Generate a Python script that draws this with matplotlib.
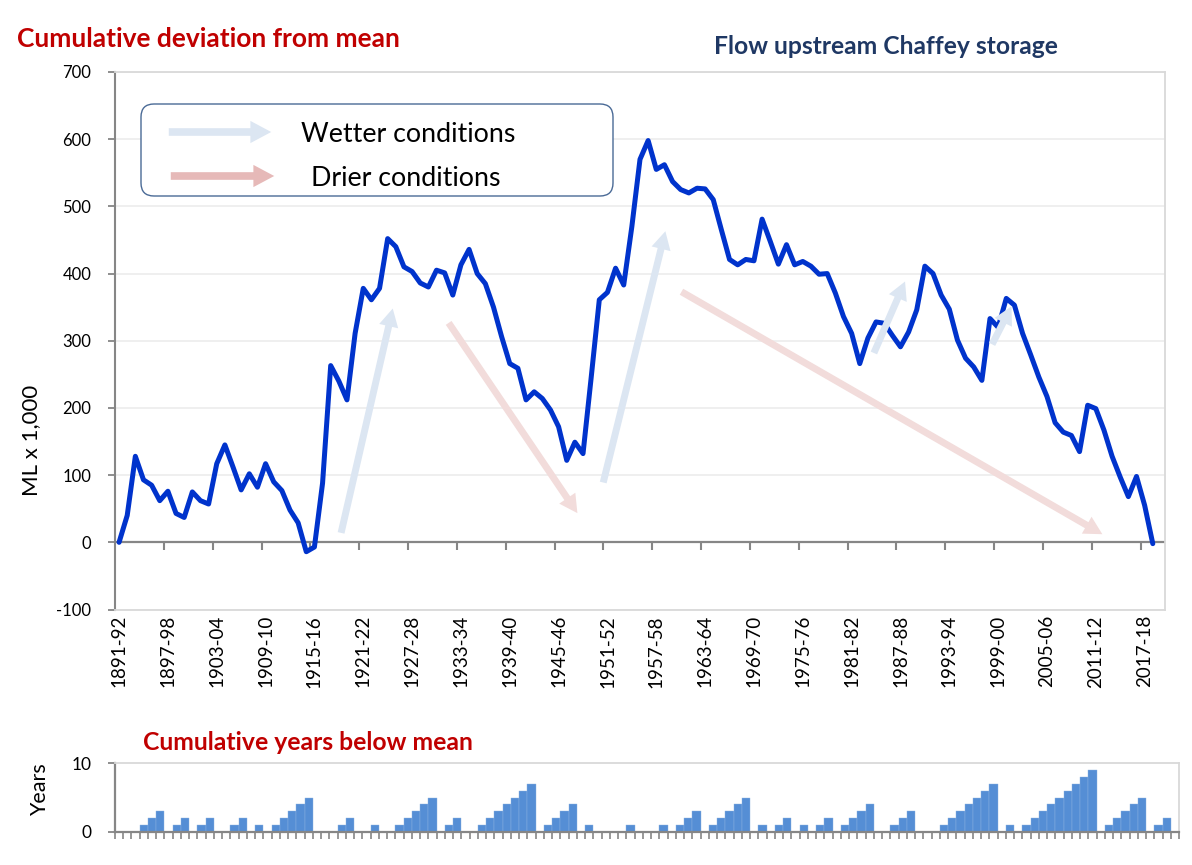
import matplotlib
matplotlib.use("Agg")
import matplotlib.pyplot as plt
from matplotlib.patches import FancyArrowPatch, FancyBboxPatch
import numpy as np

plt.rcParams['font.family'] = ['Lato', 'DejaVu Sans']

W, H, DPI = 1192, 865, 100

# ---- data -------------------------------------------------------------
start_years = list(range(1891, 2020))          # 129 categories, 1891-92 .. 2019-20
categories = [f"{y}-{str(y + 1)[-2:]}" for y in start_years]

# Cumulative deviation from mean (ML x 1,000), 1891-92 .. 2018-19
cum_dev = [
    0, 40, 128, 93, 85, 62, 76, 43, 37, 75,
    62, 57, 117, 145, 112, 78, 102, 82, 117, 90,
    77, 48, 29, -14, -7, 88, 263, 240, 212, 311,
    378, 361, 378, 452, 440, 410, 403, 386, 380, 405,
    401, 368, 413, 436, 400, 385, 350, 306, 266, 259,
    212, 224, 214, 197, 172, 122, 149, 132, 245, 361,
    372, 408, 383, 470, 570, 598, 555, 562, 537, 525,
    520, 527, 526, 510, 465, 421, 413, 421, 419, 481,
    448, 414, 443, 413, 418, 411, 399, 400, 371, 336,
    311, 266, 304, 328, 326, 308, 291, 313, 346, 411,
    400, 368, 347, 301, 274, 261, 241, 333, 320, 363,
    353, 311, 279, 246, 217, 178, 164, 159, 135, 204,
    199, 167, 128, 97, 68, 98, 55, -2,
]

# Cumulative years below mean, 1891-92 .. 2018-19
years_below = [
    0, 0, 0, 1, 2, 3, 0, 1, 2, 0,
    1, 2, 0, 0, 1, 2, 0, 1, 0, 1,
    2, 3, 4, 5, 0, 0, 0, 1, 2, 0,
    0, 1, 0, 0, 1, 2, 3, 4, 5, 0,
    1, 2, 0, 0, 1, 2, 3, 4, 5, 6,
    7, 0, 1, 2, 3, 4, 0, 1, 0, 0,
    0, 0, 1, 0, 0, 0, 1, 0, 1, 2,
    3, 0, 1, 2, 3, 4, 5, 0, 1, 0,
    1, 2, 0, 1, 0, 1, 2, 0, 1, 2,
    3, 4, 0, 0, 1, 2, 3, 0, 0, 0,
    1, 2, 3, 4, 5, 6, 7, 0, 1, 0,
    1, 2, 3, 4, 5, 6, 7, 8, 9, 0,
    1, 2, 3, 4, 5, 0, 1, 2,
]

y_ticks = list(range(-100, 701, 100))
label_step = 6

# annotation arrows: (category start, value start, category end, value end, kind)
trend_arrows = [
    (27.2, 10, 33.7, 352, "wet"),
    (40.3, 330, 56.5, 40, "dry"),
    (59.4, 85, 67.2, 467, "wet"),
    (68.8, 375, 121.1, 10, "dry"),
    (92.6, 278, 96.7, 392, "wet"),
    (107.1, 291, 109.8, 355, "wet"),
]

LINE = "#0033cc"
AX_GREY = "#868686"
FRAME = "#d9d9d9"
GRID = "#eeeeee"
RED = "#c00000"
NAVY = "#1f3864"
BAR = "#558ed5"
WET = "#dce6f2"
DRY = "#f2dcdb"
WET_LEG = "#dce6f2"
DRY_LEG = "#e6b9b8"

fig = plt.figure(figsize=(W / DPI, H / DPI), dpi=DPI)

# ---- main chart -------------------------------------------------------
ax = fig.add_axes([115 / W, 1 - 609.5 / H, 1050 / W, 537.5 / H])
n_cat = len(categories)
x = np.arange(len(cum_dev))
ax.plot(x, cum_dev, color=LINE, lw=3.6, solid_joinstyle="round",
        solid_capstyle="round", zorder=3)
ax.set_xlim(-0.5, n_cat - 0.5)
ax.set_ylim(-100, 700)
ax.set_yticks(y_ticks)
ax.set_yticklabels([str(v) for v in y_ticks])
ax.grid(axis="y", color=GRID, lw=1.3, zorder=0)
for s in ["top", "right", "bottom"]:
    ax.spines[s].set_color(FRAME)
    ax.spines[s].set_linewidth(1.3)
ax.spines["left"].set_color(AX_GREY)
ax.spines["left"].set_linewidth(1.5)
ax.tick_params(axis="y", direction="out", length=5, width=1.3, color=AX_GREY,
               labelsize=12, pad=12, labelcolor="black")
ax.set_xticks(x[::label_step])
ax.set_xticklabels(categories[:len(cum_dev)][::label_step], rotation=90)
ax.tick_params(axis="x", length=0, labelsize=13.5, pad=4)
# category axis drawn at zero
ax.axhline(0, color=AX_GREY, lw=1.6, zorder=2)
bounds = np.arange(label_step - 0.5, n_cat, label_step)
ax.vlines(bounds, -12, 0, color=AX_GREY, lw=1.5, zorder=2)

for x0, y0, x1, y1, kind in trend_arrows:
    col = WET if kind == "wet" else DRY
    arr = FancyArrowPatch((x0, y0), (x1, y1),
                          arrowstyle="simple,head_length=13,head_width=14,tail_width=5",
                          mutation_scale=1, color=col, lw=0, zorder=4)
    ax.add_patch(arr)

# ---- bottom chart -----------------------------------------------------
ax2 = fig.add_axes([115 / W, 1 - 832 / H, 1064 / W, 69 / H])
xb = np.arange(len(years_below))
ax2.bar(xb, years_below, width=1.0, color=BAR, edgecolor="#8db3e2",
        linewidth=0.3, zorder=2)
ax2.set_xlim(-0.5, n_cat - 0.5)
ax2.set_ylim(0, 10)
ax2.set_yticks([0, 10])
ax2.set_xticks(np.arange(-0.5, n_cat, 1))
ax2.set_xticklabels([])
ax2.tick_params(axis="x", direction="out", length=5, width=1.2, color=AX_GREY)
ax2.tick_params(axis="y", direction="out", length=5, width=1.3, color=AX_GREY,
                labelsize=12.5, pad=12)
for s in ["top", "right"]:
    ax2.spines[s].set_color(FRAME)
    ax2.spines[s].set_linewidth(1.3)
for s in ["left", "bottom"]:
    ax2.spines[s].set_color(AX_GREY)
    ax2.spines[s].set_linewidth(1.6)

# ---- overlay in pixel coordinates for texts & legend ------------------
ov = fig.add_axes([0, 0, 1, 1], zorder=10)
ov.set_xlim(0, W)
ov.set_ylim(H, 0)
ov.axis("off")

ov.text(17, 39, "Cumulative deviation from mean", color=RED, fontsize=19,
        fontweight="bold", va="center", ha="left")
ov.text(714, 46, "Flow upstream Chaffey storage", color=NAVY, fontsize=17.7,
        fontweight="bold", va="center", ha="left")
ov.text(143, 743, "Cumulative years below mean", color=RED, fontsize=17.8,
        fontweight="bold", va="center", ha="left")
ov.text(31, 440, "ML x 1,000", rotation=90, fontsize=16, va="center", ha="center")
ov.text(40, 790, "Years", rotation=90, fontsize=15.5, va="center", ha="center")

box = FancyBboxPatch((141, 104), 472, 92,
                     boxstyle="round,pad=0,rounding_size=13",
                     fc="white", ec="#4a6a96", lw=1.0)
ov.add_patch(box)
ov.add_patch(FancyArrowPatch((166, 132), (274, 132),
                             arrowstyle="simple,head_length=15,head_width=16,tail_width=5.5",
                             mutation_scale=1, color=WET_LEG, lw=0))
ov.add_patch(FancyArrowPatch((168, 176), (277, 176),
                             arrowstyle="simple,head_length=15,head_width=16,tail_width=5.5",
                             mutation_scale=1, color=DRY_LEG, lw=0))
ov.text(301, 134, "Wetter conditions", fontsize=19.3, va="center", ha="left")
ov.text(311, 179, "Drier conditions", fontsize=19.3, va="center", ha="left")

fig.savefig("out.png", dpi=DPI)
